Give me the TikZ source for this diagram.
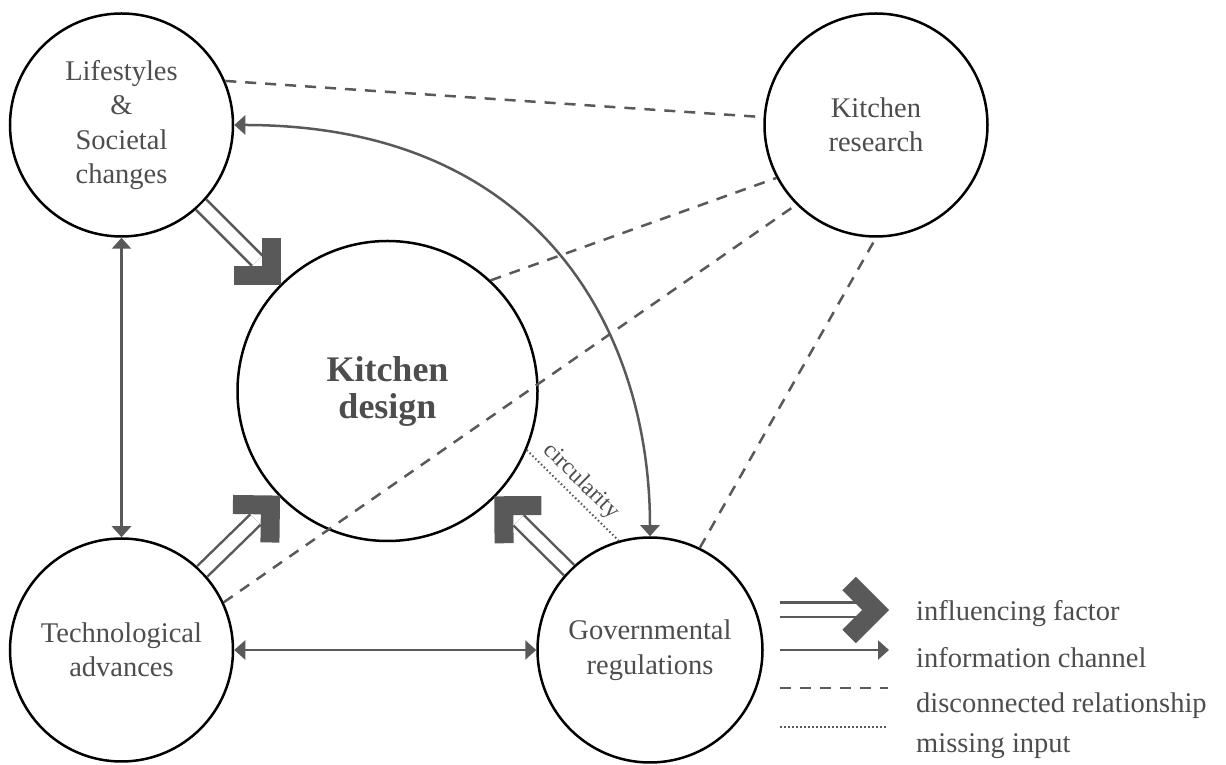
\documentclass[tikz,border=0pt]{standalone}
\usepackage{fontspec}
\setmainfont{Liberation Serif}
\usepackage{tikz}
\usetikzlibrary{arrows.meta,calc}
\definecolor{ink}{RGB}{77,77,77}
\definecolor{wire}{RGB}{89,89,89}

\begin{document}
\begin{tikzpicture}[x=1pt,y=1pt,>={Triangle[length=11pt,width=19pt]},
  factor/.style={draw=black,line width=2.5pt,circle,inner sep=0pt,minimum size=223pt,align=center,text=ink,font=\fontsize{28.5}{34.5}\selectfont},
  hub/.style={factor,minimum size=300pt,font=\fontsize{36}{37}\selectfont\bfseries},
  chan/.style={draw=wire,line width=2.5pt},
  infl/.style={draw=wire,line width=2.5pt,double=white,double distance=12pt,shorten >=33pt},
  chev/.style={draw=wire,line width=19pt,line join=miter,line cap=butt},
  disc/.style={draw=wire,line width=2.5pt,dash pattern=on 11pt off 9pt},
  miss/.style={draw=wire,line width=2pt,dash pattern=on 1.5pt off 2.5pt},
  legtext/.style={anchor=base west,text=ink,inner sep=0pt,font=\fontsize{28.5}{34.5}\selectfont}]
  \useasboundingbox (0,0) rectangle (1226,765);
  % circles
  \node[factor] (life) at (121.5,640) {Lifestyles\\ \&\\ Societal\\ changes};
  \node[factor] (res) at (876,640) {Kitchen\\ research};
  \node[hub] (design) at (387.5,374) {Kitchen\\ design};
  \node[factor] (tech) at (121.5,115) {Technological\\ advances};
  \node[factor,minimum size=225pt] (gov) at (650,115) {Governmental\\ regulations};
  % disconnected relationships
  \draw[disc] (life.23) -- (res.176);
  \draw[disc] (design.47) -- (res.208);
  \draw[disc] (tech.25) -- (res.225);
  \draw[disc] (gov.64) -- (res.270);
  % missing input
  \draw[miss] (design.-23) -- node[pos=.47,sloped,above,text=ink,font=\fontsize{23.5}{25}\selectfont,inner sep=4pt] (circ) {circularity} (gov.106);
  % information channels
  \draw[chan,<->] (life) -- (tech);
  \draw[chan,<->] (tech) -- (gov);
  \draw[chan,<->] (life.east) .. controls +(310,0) and +(0,200) .. (gov.north);
  % influencing factors
  \draw[infl] (life) -- (design);
  \draw[infl] (tech) -- (design);
  \draw[infl] (gov) -- (design);
  \coordinate (t1) at ($(design)!163.4pt!(life)$);
  \coordinate (t2) at ($(design)!163.4pt!(tech)$);
  \coordinate (t3) at ($(design)!163.4pt!(gov)$);
  \draw[chev] ($(t1)!37.5pt!45:(life)$) -- (t1) -- ($(t1)!37.5pt!-45:(life)$);
  \draw[chev] ($(t2)!37.5pt!45:(tech)$) -- (t2) -- ($(t2)!37.5pt!-45:(tech)$);
  \draw[chev] ($(t3)!37.5pt!45:(gov)$) -- (t3) -- ($(t3)!37.5pt!-45:(gov)$);
  % legend
  \coordinate (lga) at (780,155);
  \coordinate (lgb) at (875.6,155);
  \draw[infl,shorten >=20pt] (lga) -- (lgb);
  \draw[chev] ($(lgb)!37.5pt!45:(lga)$) -- (lgb) -- ($(lgb)!37.5pt!-45:(lga)$);
  \coordinate (lgc) at (780,115);
  \coordinate (lgd) at (889,115);
  \draw[chan,->] (lgc) -- (lgd);
  \coordinate (lge) at (780,77);
  \coordinate (lgf) at (888,77);
  \draw[disc] (lge) -- (lgf);
  \coordinate (lgg) at (780,38);
  \coordinate (lgh) at (887,38);
  \draw[miss] (lgg) -- (lgh);
  \node[legtext] (lt1) at (916,144) {influencing factor};
  \node[legtext] (lt2) at (916,97) {information channel};
  \node[legtext] (lt3) at (916,52) {disconnected relationship};
  \node[legtext] (lt4) at (916,12) {missing input};
\end{tikzpicture}
\end{document}
